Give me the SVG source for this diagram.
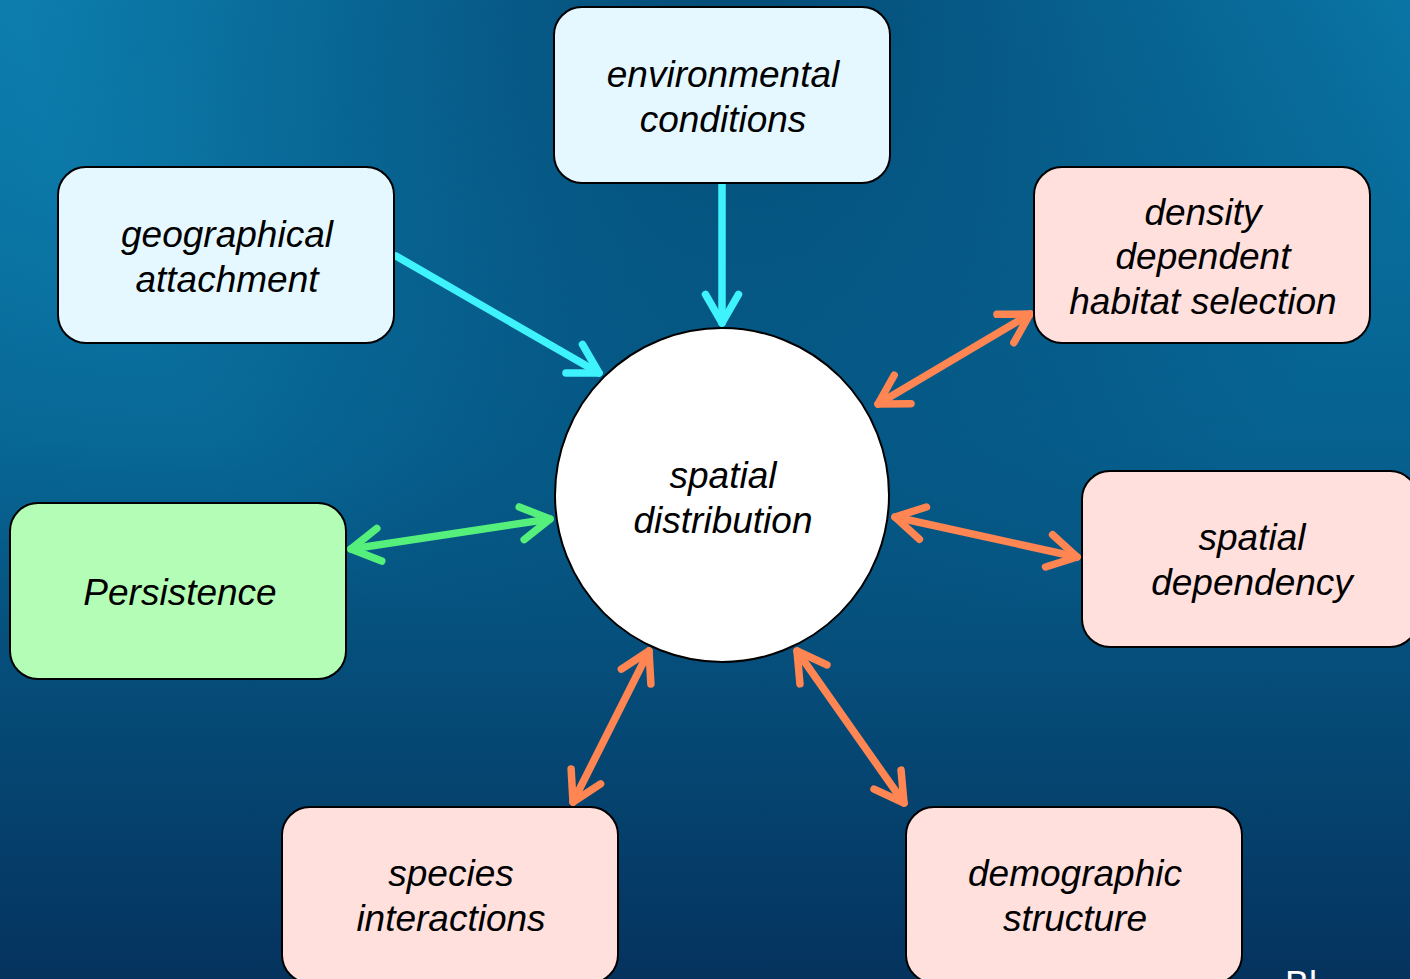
<svg xmlns="http://www.w3.org/2000/svg" width="1410" height="979" viewBox="0 0 1410 979">
  <defs>
    <linearGradient id="sea" x1="0" y1="0" x2="0" y2="1">
      <stop offset="0" stop-color="#0A78A8"/>
      <stop offset="0.45" stop-color="#06618F"/>
      <stop offset="1" stop-color="#05335E"/>
    </linearGradient>
    <radialGradient id="shade" cx="740" cy="-60" r="720" gradientUnits="userSpaceOnUse">
      <stop offset="0" stop-color="#02365F" stop-opacity="0.7"/>
      <stop offset="1" stop-color="#02365F" stop-opacity="0"/>
    </radialGradient>
    <radialGradient id="glow" cx="150" cy="150" r="500" gradientUnits="userSpaceOnUse">
      <stop offset="0" stop-color="#1290C0" stop-opacity="0.35"/>
      <stop offset="1" stop-color="#1290C0" stop-opacity="0"/>
    </radialGradient>
    <marker id="head-cyan" viewBox="-40 -25 50 50" markerWidth="50" markerHeight="50" refX="0" refY="0" markerUnits="userSpaceOnUse" orient="auto-start-reverse">
      <path d="M -28.6 -16.5 L 0 0 L -28.6 16.5" fill="none" stroke="#3FF3FC" stroke-width="7.5" stroke-linecap="round" stroke-linejoin="round"/>
    </marker>
    <marker id="head-green" viewBox="-40 -25 50 50" markerWidth="50" markerHeight="50" refX="0" refY="0" markerUnits="userSpaceOnUse" orient="auto-start-reverse">
      <path d="M -28.6 -16.5 L 0 0 L -28.6 16.5" fill="none" stroke="#55F07C" stroke-width="7.5" stroke-linecap="round" stroke-linejoin="round"/>
    </marker>
    <marker id="head-orange" viewBox="-40 -25 50 50" markerWidth="50" markerHeight="50" refX="0" refY="0" markerUnits="userSpaceOnUse" orient="auto-start-reverse">
      <path d="M -28.6 -16.5 L 0 0 L -28.6 16.5" fill="none" stroke="#FF8552" stroke-width="7.5" stroke-linecap="round" stroke-linejoin="round"/>
    </marker>
  </defs>
  <style>
    .box { stroke: #000; stroke-width: 2; }
    .blue { fill: #E6F8FF; }
    .green { fill: #B3FDB6; }
    .pink { fill: #FFE0DD; }
    .hub { fill: #FFFFFF; stroke: #000; stroke-width: 2; }
    .label { font-family: "Liberation Sans", Arial, sans-serif; font-style: italic; font-size: 37px; fill: #000; text-anchor: middle; }
    .link { fill: none; stroke-width: 7.5; stroke-linecap: round; }
    .cyan { stroke: #3FF3FC; marker-end: url(#head-cyan); }
    .grn { stroke: #55F07C; marker-start: url(#head-green); marker-end: url(#head-green); }
    .org { stroke: #FF8552; marker-start: url(#head-orange); marker-end: url(#head-orange); }
    .footer { font-family: "Liberation Sans", Arial, sans-serif; font-size: 36px; fill: #FFFFFF; }
  </style>

  <!-- backdrop -->
  <rect x="0" y="0" width="1410" height="979" fill="url(#sea)"/>
  <rect x="0" y="0" width="1410" height="979" fill="url(#glow)"/>
  <rect x="0" y="0" width="1410" height="979" fill="url(#shade)"/>

  <!-- connectors -->
  <g id="connectors">
    <line class="link cyan" x1="722" y1="184" x2="722" y2="323"/>
    <line class="link cyan" x1="396" y1="256" x2="599" y2="373"/>
    <line class="link grn" x1="351" y1="549" x2="550" y2="519"/>
    <line class="link org" x1="878" y1="404" x2="1030" y2="314"/>
    <line class="link org" x1="895" y1="517" x2="1077" y2="557"/>
    <line class="link org" x1="649" y1="651" x2="573" y2="802"/>
    <line class="link org" x1="797" y1="651" x2="904" y2="803"/>
  </g>

  <!-- nodes -->
  <g id="node-environmental">
    <rect class="box blue" x="554" y="7" width="336" height="176" rx="28"/>
    <text class="label" x="723" y="87">environmental</text>
    <text class="label" x="723" y="132">conditions</text>
  </g>
  <g id="node-geographical">
    <rect class="box blue" x="58" y="167" width="336" height="176" rx="28"/>
    <text class="label" x="227" y="247">geographical</text>
    <text class="label" x="227" y="292">attachment</text>
  </g>
  <g id="node-density">
    <rect class="box pink" x="1034" y="167" width="336" height="176" rx="28"/>
    <text class="label" x="1203" y="225">density</text>
    <text class="label" x="1203" y="269">dependent</text>
    <text class="label" x="1203" y="314">habitat selection</text>
  </g>
  <g id="node-persistence">
    <rect class="box green" x="10" y="503" width="336" height="176" rx="28"/>
    <text class="label" x="180" y="605">Persistence</text>
  </g>
  <g id="node-spatial-dependency">
    <rect class="box pink" x="1082" y="471" width="336" height="176" rx="28"/>
    <text class="label" x="1252" y="550">spatial</text>
    <text class="label" x="1252" y="595">dependency</text>
  </g>
  <g id="node-species">
    <rect class="box pink" x="282" y="807" width="336" height="176" rx="28"/>
    <text class="label" x="451" y="886">species</text>
    <text class="label" x="451" y="931">interactions</text>
  </g>
  <g id="node-demographic">
    <rect class="box pink" x="906" y="807" width="336" height="176" rx="28"/>
    <text class="label" x="1075" y="886">demographic</text>
    <text class="label" x="1075" y="931">structure</text>
  </g>
  <g id="node-spatial-distribution">
    <circle class="hub" cx="722" cy="495" r="167"/>
    <text class="label" x="723" y="488">spatial</text>
    <text class="label" x="723" y="533">distribution</text>
  </g>

  <!-- footer text running off the lower edge -->
  <text class="footer" x="1285" y="997">Bl</text>
</svg>
